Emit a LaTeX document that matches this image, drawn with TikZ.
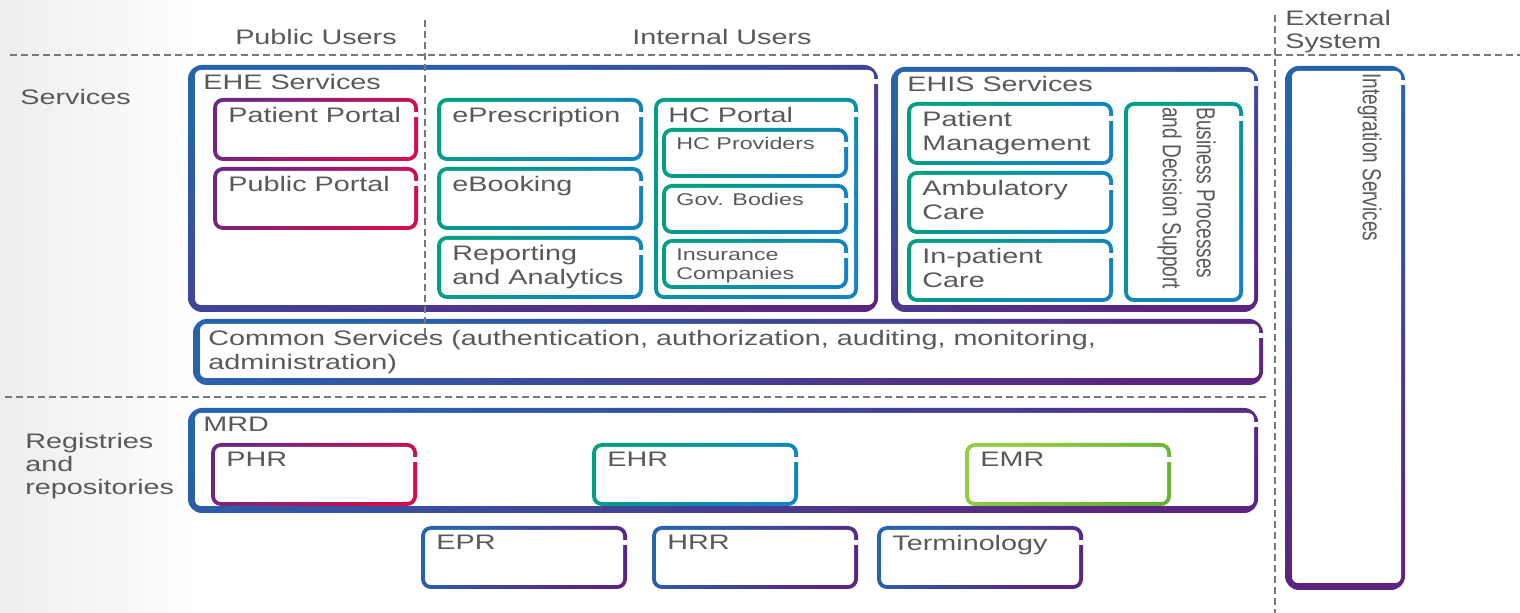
\documentclass[tikz,border=0pt]{standalone}
\usepackage{fontspec}
\setmainfont{Liberation Sans}[FakeStretch=1.37]
\newfontfamily\rotfont{Liberation Sans}
\usepackage{graphicx}
\usetikzlibrary{positioning}
\definecolor{txtgray}{RGB}{89,89,89}
\definecolor{dashgray}{RGB}{120,120,120}
\definecolor{ehblue}{RGB}{38,100,176}
\definecolor{ehpurple}{RGB}{92,36,128}
\definecolor{plum}{RGB}{110,40,130}
\definecolor{crimson}{RGB}{210,14,80}
\definecolor{tealgrn}{RGB}{0,160,130}
\definecolor{seablue}{RGB}{20,130,195}
\definecolor{limegrn}{RGB}{150,205,70}
\definecolor{leafgrn}{RGB}{100,180,50}

% white inside of a shaded frame, with the small break on its right side
\newcommand{\boxhole}[4]{%
  \fill[white, rounded corners=3pt] ([shift={(#1,#2)}]path picture bounding box.south west) rectangle ([shift={(-#3,-#4)}]path picture bounding box.north east);
  \fill[white, sharp corners] ([shift={(-#3-1pt,-7pt)}]path picture bounding box.north east) rectangle ([shift={(1pt,-9.5pt)}]path picture bounding box.north east);}

\begin{document}
\begin{tikzpicture}[
  x=0.5pt, y=-0.5pt,
  box/.style={anchor=north west, inner sep=0pt, outer sep=0pt, rounded corners=5pt},
  bigbox/.style={box, rounded corners=7pt, top color=ehblue, bottom color=ehpurple, shading angle=20, path picture={\boxhole{3.5pt}{3.5pt}{2pt}{2.5pt}}},
  plumbox/.style={box, top color=plum, bottom color=crimson, shading angle=45, path picture={\boxhole{2pt}{2pt}{2pt}{2pt}}},
  tealbox/.style={box, top color=tealgrn, bottom color=seablue, shading angle=45, path picture={\boxhole{2pt}{2pt}{2pt}{2pt}}},
  limebox/.style={box, top color=limegrn, bottom color=leafgrn, shading angle=45, path picture={\boxhole{2pt}{2pt}{2pt}{2pt}}},
  navybox/.style={box, top color=ehblue, bottom color=ehpurple, shading angle=45, path picture={\boxhole{2pt}{2pt}{2pt}{2pt}}},
  txt/.style={anchor=north west, inner sep=0pt, align=left, text=txtgray},
  lbl/.style={txt, font=\fontsize{10.5}{12}\selectfont, xshift=7.5pt, yshift=-4.3pt},
  smlbl/.style={txt, font=\fontsize{8.5}{9.5}\selectfont, xshift=7pt, yshift=-4.5pt},
  hdr/.style={text=txtgray, inner sep=0pt, align=left, font=\fontsize{10.5}{11.5}\selectfont},
  rot/.style={rotate=-90, anchor=north west, inner sep=0pt, text=txtgray, font=\rotfont\fontsize{9.5}{12.4}\selectfont},
  sep/.style={dashgray, line width=0.6pt, dash pattern=on 3.5pt off 2pt}
]
  \useasboundingbox (0,0) rectangle (1520,613);
  \shade[left color=black!7, right color=white] (0,0) rectangle (200,613);

  % --- headers ---
  \node[hdr] (pubusers) at (316,37) {Public Users};
  \node[hdr] (intusers) at (722,37) {Internal Users};
  \node[hdr, anchor=north west] (extsys) at (1285,10) {External\\System};
  \node[hdr, anchor=west] (services) at (20,97) {Services};
  \node[hdr, anchor=north west] (registries) at (25,433) {Registries\\and\\repositories};

  % --- EHE services ---
  \node[bigbox, minimum width=345pt, minimum height=123.5pt, label={[lbl]north west:EHE Services}] (ehe) at (188,65) {};
  \node[plumbox, minimum width=102.5pt, minimum height=31.5pt, label={[lbl]north west:Patient Portal}] (patportal) at (213,98) {};
  \node[plumbox, minimum width=102.5pt, minimum height=31.5pt, below=3pt of patportal, label={[lbl]north west:Public Portal}] (pubportal) {};
  \node[tealbox, minimum width=103pt, minimum height=31.5pt, label={[lbl]north west:ePrescription}] (epresc) at (437,98) {};
  \node[tealbox, minimum width=103pt, minimum height=31.5pt, below=3pt of epresc, label={[lbl]north west:eBooking}] (ebook) {};
  \node[tealbox, minimum width=103pt, minimum height=31.5pt, below=3pt of ebook, label={[lbl]north west:{Reporting\\and Analytics}}] (report) {};
  \node[tealbox, minimum width=102pt, minimum height=100.5pt, label={[lbl, xshift=-0.5pt]north west:HC Portal}] (hcportal) at (654,98) {};
  \node[tealbox, minimum width=93pt, minimum height=25pt, label={[smlbl]north west:HC Providers}] (hcprov) at (662,128) {};
  \node[tealbox, minimum width=93pt, minimum height=25pt, below=3pt of hcprov, label={[smlbl]north west:Gov. Bodies}] (govbod) {};
  \node[tealbox, minimum width=93pt, minimum height=25pt, below=2.5pt of govbod, label={[smlbl]north west:{Insurance\\Companies}}] (insur) {};

  % --- EHIS services ---
  \node[bigbox, minimum width=183.5pt, minimum height=122.5pt, label={[lbl, xshift=0.5pt]north west:EHIS Services}] (ehis) at (891,67) {};
  \node[tealbox, minimum width=103pt, minimum height=31.5pt, label={[lbl]north west:{Patient\\Management}}] (patmgmt) at (907,102) {};
  \node[tealbox, minimum width=103pt, minimum height=31.5pt, below=3pt of patmgmt, label={[lbl]north west:{Ambulatory\\Care}}] (ambul) {};
  \node[tealbox, minimum width=103pt, minimum height=31.5pt, below=2.5pt of ambul, label={[lbl]north west:{In-patient\\Care}}] (inpat) {};
  \node[tealbox, minimum width=59.5pt, minimum height=100pt] (bpds) at (1124,102) {};
  \node[rot] (bpdstxt) at (1221,107) {\scalebox{1}[1.37]{\begin{tabular}{@{}l@{}}Business Processes\\and Decision Support\end{tabular}}};

  % --- external system ---
  \node[bigbox, minimum width=60pt, minimum height=262pt] (integ) at (1285,66) {};
  \node[rot] (integtxt) at (1382,73) {\scalebox{1}[1.37]{Integration Services}};

  % --- common services ---
  \node[bigbox, minimum width=535pt, minimum height=33pt, label={[lbl, yshift=-1pt]north west:{Common Services (authentication, authorization, auditing, monitoring,\\administration)}}] (common) at (193,319) {};

  % --- registries and repositories ---
  \node[bigbox, minimum width=535pt, minimum height=52.5pt, label={[lbl]north west:MRD}] (mrd) at (188,408) {};
  \node[plumbox, minimum width=103pt, minimum height=31.5pt, label={[lbl]north west:PHR}] (phr) at (211,443) {};
  \node[tealbox, minimum width=103pt, minimum height=31.5pt, label={[lbl]north west:EHR}] (ehr) at (592,443) {};
  \node[limebox, minimum width=103pt, minimum height=31.5pt, label={[lbl]north west:EMR}] (emr) at (965,443) {};
  \node[navybox, minimum width=103pt, minimum height=31.5pt, label={[lbl]north west:EPR}] (epr) at (421,526) {};
  \node[navybox, minimum width=103pt, minimum height=31.5pt, right=12.5pt of epr, label={[lbl]north west:HRR}] (hrr) {};
  \node[navybox, minimum width=103pt, minimum height=31.5pt, right=9.5pt of hrr, label={[lbl]north west:Terminology}] (termin) {};

  % --- separators ---
  \draw[sep] (10,55) -- (1520,55);
  \draw[sep] (5,397) -- (1268,397);
  \draw[sep] (425,20) -- (425,340);
  \draw[sep] (1275,15) -- (1275,613);
\end{tikzpicture}
\end{document}
